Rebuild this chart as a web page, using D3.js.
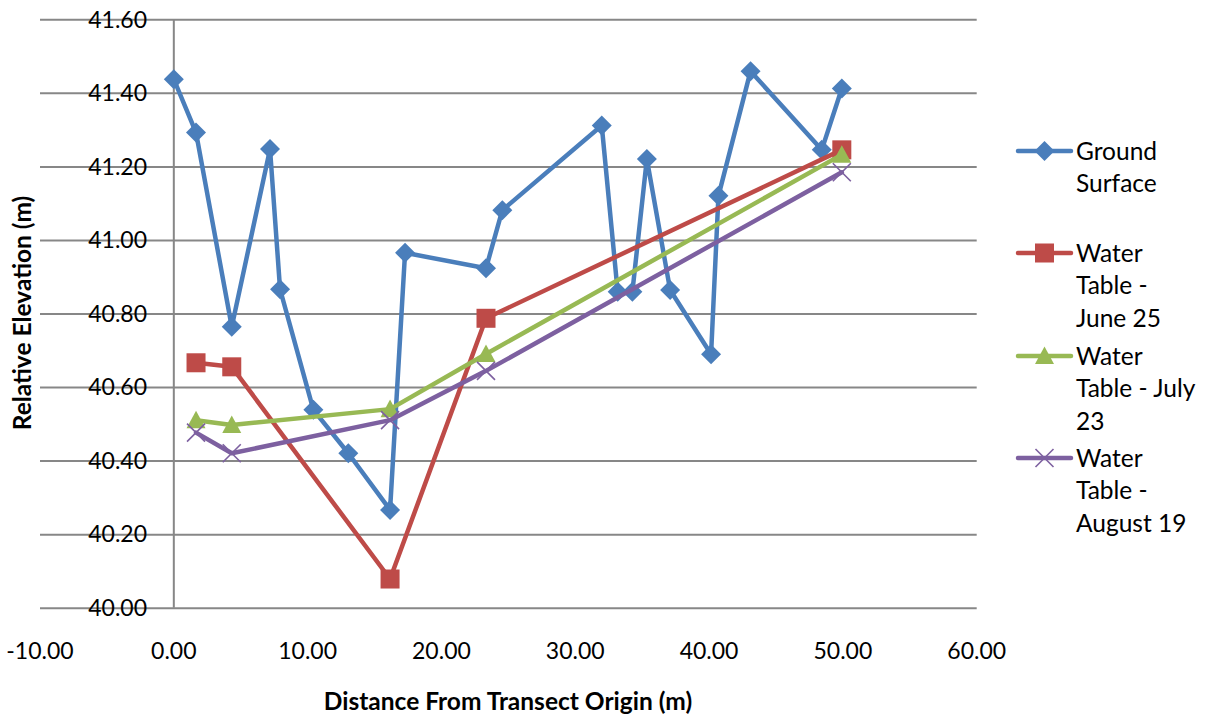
<!DOCTYPE html>
<html>
<head>
<meta charset="utf-8">
<script src="https://cdn.jsdelivr.net/npm/d3@7"></script>
<style>
  html, body { margin: 0; padding: 0; background: #fff; }
  svg { display: block; font-family: Lato, "Open Sans", sans-serif; }
</style>
</head>
<body>
<svg id="chart" width="1209" height="719"></svg>
<script>
// Transect survey: distances (m) and relative elevations (m)
const groundX = [0.00, 1.66, 4.33, 7.19, 7.94, 10.43, 13.04, 16.16, 17.28, 23.33, 24.55,
                 31.98, 33.17, 34.27, 35.35, 37.09, 40.15, 40.70, 43.10, 48.42, 49.92];
const groundY = [41.437, 41.292, 40.764, 41.247, 40.866, 40.538, 40.420, 40.266, 40.965, 40.923, 41.081,
                 41.311, 40.859, 40.859, 41.220, 40.864, 40.689, 41.120, 41.459, 41.245, 41.412];

const wellX = [1.66, 4.33, 16.16, 23.33, 49.92];
const june25 = [40.666, 40.655, 40.078, 40.787, 41.245];
const july23 = [40.510, 40.497, 40.540, 40.690, 41.232];
const aug19  = [40.476, 40.420, 40.510, 40.644, 41.184];

const xTicks = [-10, 0, 10, 20, 30, 40, 50, 60];
const yTicks = [40.0, 40.2, 40.4, 40.6, 40.8, 41.0, 41.2, 41.4, 41.6];

const seriesNames = ["Ground Surface", "Water Table - June 25", "Water Table - July 23", "Water Table - August 19"];
const legendLines = [["Ground", "Surface"], ["Water", "Table -", "June 25"], ["Water", "Table - July", "23"], ["Water", "Table -", "August 19"]];
const colors = ["#4A7EBB", "#BE4B48", "#98B954", "#7D60A0"];
const markers = ["diamond", "square", "triangle", "cross"];

const series = [
  { xs: groundX, ys: groundY },
  { xs: wellX, ys: june25 },
  { xs: wellX, ys: july23 },
  { xs: wellX, ys: aug19 }
].map((s, i) => ({
  name: seriesNames[i],
  color: colors[i],
  marker: markers[i],
  points: s.xs.map((x, j) => ({ x, y: s.ys[j] }))
}));

const svg = d3.select("#chart");
const plot = { left: 40, right: 976.7, top: 19.3, bottom: 607.7 };

const x = d3.scaleLinear().domain([-10, 60]).range([plot.left, plot.right]);
const y = d3.scaleLinear().domain([40.0, 41.6]).range([plot.bottom, plot.top]);

const gridColor = "#878787";
const tickFont = 23;
const legendFont = 24.5;
const titleFont = 24.5;

// horizontal gridlines
svg.append("g")
  .attr("transform", `translate(${plot.left},0)`)
  .call(d3.axisLeft(y).tickValues(yTicks).tickSize(-(plot.right - plot.left)).tickFormat(""))
  .call(g => g.select(".domain").remove())
  .call(g => g.selectAll("line").attr("stroke", gridColor).attr("stroke-width", 2));

// vertical axis line at x = 0
svg.append("line")
  .attr("x1", x(0)).attr("x2", x(0))
  .attr("y1", plot.top).attr("y2", plot.bottom)
  .attr("stroke", gridColor).attr("stroke-width", 2);

// y tick labels
svg.append("g")
  .selectAll("text")
  .data(yTicks)
  .join("text")
  .attr("x", 147)
  .attr("y", d => y(d))
  .attr("dy", "0.36em")
  .attr("text-anchor", "end")
  .attr("font-size", tickFont)
  .attr("fill", "#000")
  .text(d => d.toFixed(2));

// x tick labels
svg.append("g")
  .selectAll("text")
  .data(xTicks)
  .join("text")
  .attr("x", d => x(d))
  .attr("y", 651)
  .attr("dy", "0.36em")
  .attr("text-anchor", "middle")
  .attr("font-size", tickFont)
  .attr("fill", "#000")
  .text(d => d.toFixed(2));

// axis titles
svg.append("text")
  .attr("x", 508).attr("y", 701).attr("dy", "0.36em")
  .attr("text-anchor", "middle")
  .attr("font-size", titleFont).attr("font-weight", "bold")
  .text("Distance From Transect Origin (m)");

svg.append("text")
  .attr("transform", `translate(22,313) rotate(-90)`)
  .attr("dy", "0.36em")
  .attr("text-anchor", "middle")
  .attr("font-size", titleFont).attr("font-weight", "bold")
  .text("Relative Elevation (m)");

// marker shapes
function drawMarker(g, type, color, cx, cy) {
  if (type === "diamond") {
    const r = 10;
    g.append("path")
      .attr("d", `M${cx},${cy - r}L${cx + r},${cy}L${cx},${cy + r}L${cx - r},${cy}Z`)
      .attr("fill", color);
  } else if (type === "square") {
    const h = 9.5;
    g.append("rect")
      .attr("x", cx - h).attr("y", cy - h)
      .attr("width", 2 * h).attr("height", 2 * h)
      .attr("fill", color);
  } else if (type === "triangle") {
    const h = 9.5;
    g.append("path")
      .attr("d", `M${cx},${cy - h}L${cx + h},${cy + h * 0.85}L${cx - h},${cy + h * 0.85}Z`)
      .attr("fill", color);
  } else if (type === "cross") {
    const h = 9;
    g.append("path")
      .attr("d", `M${cx - h},${cy - h}L${cx + h},${cy + h}M${cx - h},${cy + h}L${cx + h},${cy - h}`)
      .attr("stroke", color).attr("stroke-width", 1.6).attr("fill", "none");
  }
}

const line = d3.line().x(d => x(d.x)).y(d => y(d.y));

series.forEach(s => {
  const g = svg.append("g");
  g.append("path")
    .datum(s.points)
    .attr("d", line)
    .attr("fill", "none")
    .attr("stroke", s.color)
    .attr("stroke-width", 4.5)
    .attr("stroke-linejoin", "round")
    .attr("stroke-linecap", "round");
  s.points.forEach(p => drawMarker(g, s.marker, s.color, x(p.x), y(p.y)));
});

// legend
const legendTop = [151, 253, 356, 458];
const lineGap = 32.5;
series.forEach((s, i) => {
  const g = svg.append("g");
  const ly = legendTop[i];
  g.append("line")
    .attr("x1", 1018).attr("x2", 1071)
    .attr("y1", ly).attr("y2", ly)
    .attr("stroke", s.color).attr("stroke-width", 4.5)
    .attr("stroke-linecap", "round");
  drawMarker(g, s.marker, s.color, 1044.5, ly);
  legendLines[i].forEach((t, k) => {
    g.append("text")
      .attr("x", 1076)
      .attr("y", ly + k * lineGap)
      .attr("dy", "0.36em")
      .attr("font-size", legendFont)
      .attr("fill", "#000")
      .text(t);
  });
});
</script>
</body>
</html>
